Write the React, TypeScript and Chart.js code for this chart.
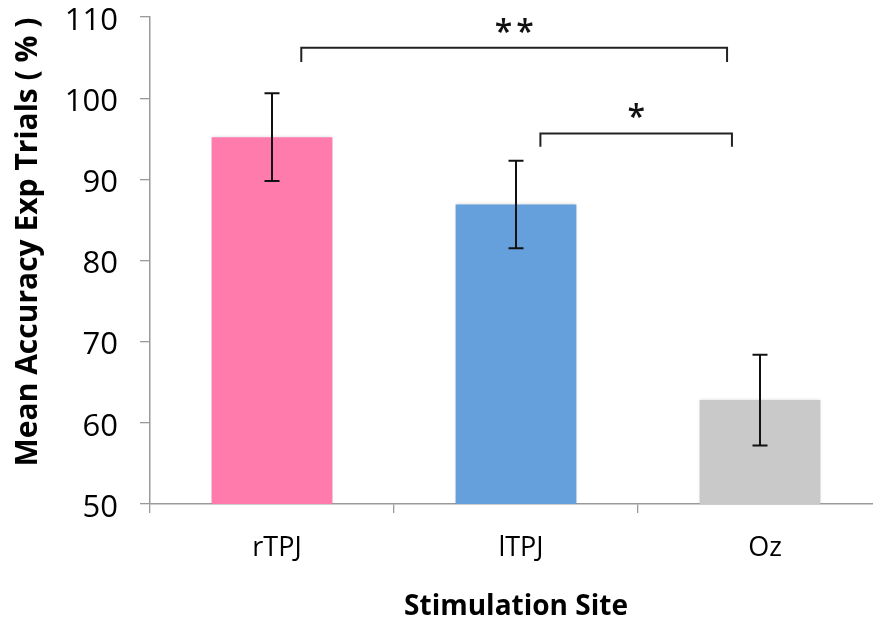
import React, { useEffect, useRef } from "react";
import { Chart, registerables } from "chart.js";

Chart.register(...registerables);

// ---- data ----
const categories = ["rTPJ", "lTPJ", "Oz"];
const means = [95.2, 86.9, 62.8];
const errors = [5.4, 5.4, 5.6];
const barColors = ["#FF7BAC", "#659FDC", "#C9C9C9"];
const yMin = 50;
const yMax = 110;
const yStep = 10;

// significance brackets (x in category-index units, y in data units)
const bracketFrom = [0.12, 1.1];
const bracketTo = [1.865, 1.885];
const bracketTop = [106.2, 95.65];
const bracketLeg = [104.45, 94.0];
const bracketLabels = ["**", "*"];
const bracketLabelY = [108.9, 98.4];

const yTitle = "Mean Accuracy Exp Trials ( % )";
const xTitle = "Stimulation Site";

const FONT = "'Open Sans', 'Noto Sans', 'DejaVu Sans', sans-serif";

const annotationsPlugin = {
  id: "annotations",
  beforeDatasetsDraw(chart: any) {
    const { ctx } = chart;
    ctx.save();
    ctx.shadowColor = "rgba(0,0,0,0.18)";
    ctx.shadowBlur = 3;
    ctx.shadowOffsetX = 0;
    ctx.shadowOffsetY = 0;
  },
  afterDatasetsDraw(chart: any) {
    const { ctx, scales } = chart;
    ctx.restore();
    const xs = scales.x;
    const ys = scales.y;
    const meta = chart.getDatasetMeta(0);
    ctx.save();
    // error bars
    ctx.strokeStyle = "#111";
    ctx.lineWidth = 2;
    meta.data.forEach((bar: any, i: number) => {
      const x = bar.x;
      const yt = ys.getPixelForValue(means[i] + errors[i]);
      const yb = ys.getPixelForValue(means[i] - errors[i]);
      const cap = 7.5;
      ctx.beginPath();
      ctx.moveTo(x, yt);
      ctx.lineTo(x, yb);
      ctx.moveTo(x - cap, yt);
      ctx.lineTo(x + cap, yt);
      ctx.moveTo(x - cap, yb);
      ctx.lineTo(x + cap, yb);
      ctx.stroke();
    });
    // brackets
    ctx.strokeStyle = "#222";
    ctx.lineWidth = 2;
    ctx.lineJoin = "miter";
    ctx.fillStyle = "#111";
    ctx.font = `600 32px ${FONT}`;
    ctx.textAlign = "center";
    ctx.textBaseline = "middle";
    try {
      (ctx as any).letterSpacing = "4px";
    } catch (e) {}
    bracketFrom.forEach((f, i) => {
      const x1 = xs.getPixelForValue(f);
      const x2 = xs.getPixelForValue(bracketTo[i]);
      const yt = ys.getPixelForValue(bracketTop[i]);
      const yl = ys.getPixelForValue(bracketLeg[i]);
      ctx.beginPath();
      ctx.moveTo(x1, yl);
      ctx.lineTo(x1, yt);
      ctx.lineTo(x2, yt);
      ctx.lineTo(x2, yl);
      ctx.stroke();
      ctx.fillText(bracketLabels[i], (x1 + x2) / 2 + 2, ys.getPixelForValue(bracketLabelY[i]) + 8);
    });
    ctx.restore();
  },
  afterDraw(chart: any) {
    const { ctx } = chart;
    ctx.save();
    ctx.fillStyle = "#000";
    ctx.font = `bold 30px ${FONT}`;
    ctx.textAlign = "center";
    ctx.textBaseline = "middle";
    ctx.translate(28, 242);
    ctx.rotate(-Math.PI / 2);
    ctx.fillText(yTitle, 0, 0);
    ctx.restore();
  },
};

export default function App() {
  const ref = useRef<HTMLCanvasElement | null>(null);
  useEffect(() => {
    if (!ref.current) return;
    const chart = new Chart(ref.current, {
      type: "bar",
      data: {
        labels: categories,
        datasets: [
          {
            data: means,
            backgroundColor: barColors,
            borderWidth: 0,
            categoryPercentage: 1,
            barPercentage: 0.495,
          },
        ],
      },
      options: {
        responsive: false,
        animation: false,
        devicePixelRatio: 1,
        layout: { padding: { top: 17, right: 0, left: 0, bottom: 0 } },
        plugins: {
          legend: { display: false },
          tooltip: { enabled: false },
          title: { display: false },
        },
        scales: {
          x: {
            grid: {
              display: true,
              drawOnChartArea: false,
              drawTicks: true,
              tickLength: 9,
              color: "#9a9a9a",
              lineWidth: 1.3,
              offset: true,
            },
            border: { display: true, color: "#9a9a9a", width: 1.5 },
            ticks: {
              color: "#000",
              font: { family: FONT, size: 27 },
              padding: 19,
              labelOffset: 5,
            },
            title: {
              display: true,
              text: xTitle,
              color: "#000",
              font: { family: FONT, size: 28, weight: "bold" },
              padding: { top: 0, bottom: 1 },
            },
            afterFit(scale: any) {
              scale.height = 121;
              scale.paddingLeft = 0;
              scale.paddingRight = 0;
            },
          },
          y: {
            min: yMin,
            max: yMax,
            ticks: {
              stepSize: yStep,
              color: "#000",
              font: { family: FONT, size: 31 },
              padding: 22,
              labelOffset: 4,
            },
            grid: {
              display: true,
              drawOnChartArea: false,
              drawTicks: true,
              tickLength: 10,
              color: "#9a9a9a",
              lineWidth: 1.3,
            },
            border: { display: true, color: "#9a9a9a", width: 1.5 },
            afterFit(scale: any) {
              scale.width = 150;
              scale.paddingTop = 0;
              scale.paddingBottom = 0;
            },
          },
        },
      },
      plugins: [annotationsPlugin],
    } as any);
    return () => chart.destroy();
  }, []);
  return (
    <div style={{ position: "fixed", left: 0, top: 0, width: 882, height: 625, background: "#fff" }}>
      <canvas ref={ref} width={882} height={625} style={{ display: "block" }} />
    </div>
  );
}
